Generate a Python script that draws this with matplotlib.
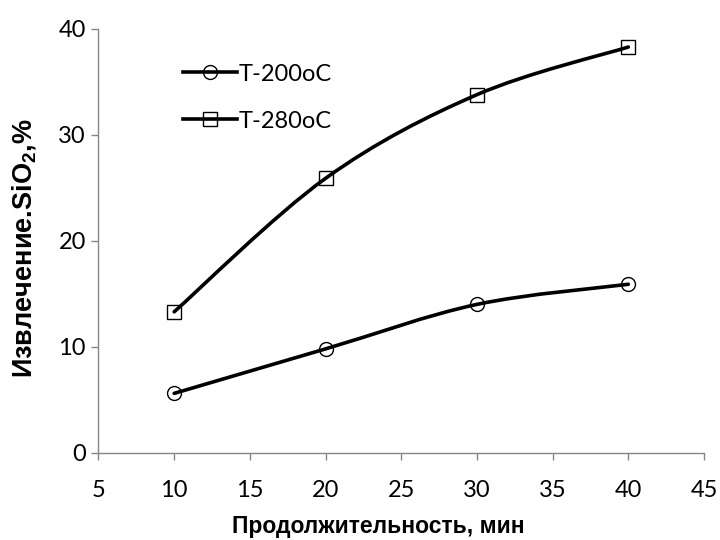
import numpy as np
import matplotlib.pyplot as plt
from matplotlib.path import Path
from matplotlib.patches import PathPatch
from matplotlib.lines import Line2D

plt.rcParams['mathtext.fontset'] = 'custom'
plt.rcParams['mathtext.bf'] = 'Liberation Sans:bold'
plt.rcParams['mathtext.rm'] = 'Liberation Sans:bold'

# продолжительность, мин
minutes = [10, 20, 30, 40]
# извлечение SiO2, %
t200 = [5.6, 9.8, 14.0, 15.9]
t280 = [13.3, 25.9, 33.8, 38.3]
names = ['T-200oC', 'T-280oC']
xticks = [5, 10, 15, 20, 25, 30, 35, 40, 45]
yticks = [0, 10, 20, 30, 40]

grey = '#868686'


def smooth_path(xs, ys):
    # сглаженная линия как в Excel: кубические кривые Безье через точки
    p = np.column_stack([xs, ys]).astype(float)
    ext = np.vstack([p[0], p, p[-1]])
    verts = [p[0]]
    codes = [Path.MOVETO]
    for i in range(len(p) - 1):
        p0, p1, p2, p3 = ext[i], ext[i + 1], ext[i + 2], ext[i + 3]
        c1 = p1 + (p2 - p0) / 6
        c2 = p2 - (p3 - p1) / 6
        verts += [c1, c2, p2]
        codes += [Path.CURVE4] * 3
    return Path(verts, codes)


fig = plt.figure(figsize=(7.2, 5.4), dpi=100)
ax = fig.add_axes([0.1368, 0.1617, 0.8410, 0.7846])

handles = []
for ys, mk, name in zip([t200, t280], ['o', 's'], names):
    ax.add_patch(PathPatch(smooth_path(minutes, ys), facecolor='none',
                           edgecolor='black', lw=2.6, capstyle='round', zorder=2))
    ax.plot(minutes, ys, linestyle='none', marker=mk, markersize=10,
            markerfacecolor='none', markeredgecolor='black', markeredgewidth=1.0, zorder=3)
    handles.append(Line2D([], [], color='black', lw=2.6, marker=mk, markersize=10,
                          markerfacecolor='none', markeredgecolor='black', markeredgewidth=1.0))

ax.set_xlim(5, 45)
ax.set_ylim(0, 40)
ax.set_xticks(xticks)
ax.set_yticks(yticks)

for s in ['top', 'right']:
    ax.spines[s].set_visible(False)
for s in ['left', 'bottom']:
    ax.spines[s].set_color(grey)
    ax.spines[s].set_linewidth(1.0)

ax.tick_params(direction='out', length=5, width=1.0, color=grey, labelcolor='black')
ax.tick_params(axis='x', pad=15)
ax.tick_params(axis='y', pad=4)
for lab in ax.get_xticklabels() + ax.get_yticklabels():
    lab.set_fontfamily('Lato')
    lab.set_fontsize(17)

ax.set_xlabel('Продолжительность, мин', fontfamily='Liberation Sans', fontweight='bold',
              fontsize=16.5, labelpad=10)
ax.set_ylabel(r'Извлечение.SiO$_\mathbf{2}$,%', fontfamily='Liberation Sans',
              fontweight='bold', fontsize=19.5, labelpad=15)
ax.xaxis.label.set_x(0.4616)
ax.yaxis.label.set_y(0.4835)

ax.legend(handles, names, loc='upper left', bbox_to_anchor=(0.1396, 0.918), frameon=False,
          prop={'family': 'Lato', 'size': 17}, handlelength=2.3, handletextpad=0.05,
          labelspacing=1.1, borderpad=0, borderaxespad=0)

fig.savefig('out.png', dpi=100)
